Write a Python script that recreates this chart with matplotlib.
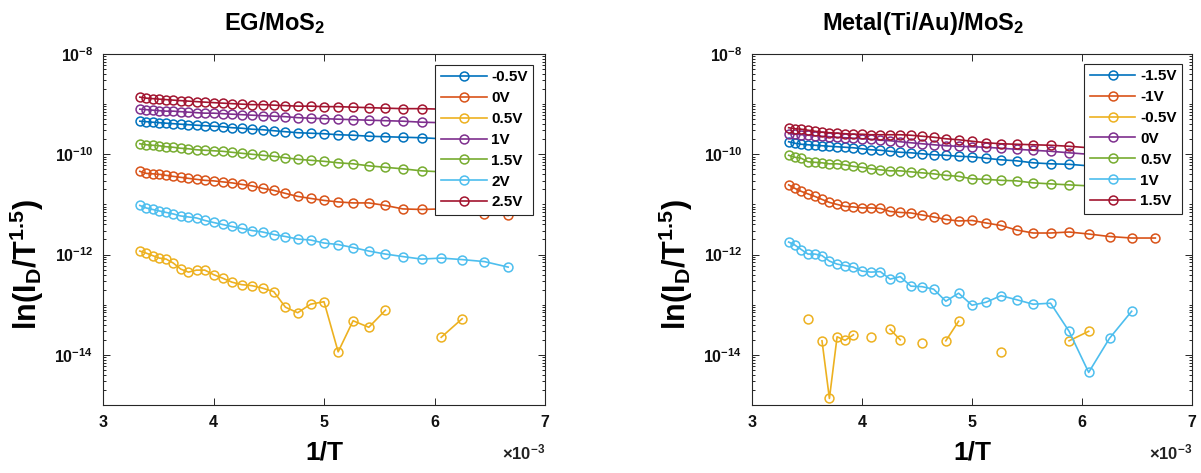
import numpy as np
import matplotlib
matplotlib.use('Agg')
import matplotlib.pyplot as plt
from matplotlib.ticker import FixedLocator, FuncFormatter, LogLocator, NullFormatter

plt.rcParams['font.family'] = ['Liberation Sans', 'DejaVu Sans']
plt.rcParams['font.weight'] = 'bold'
plt.rcParams['mathtext.fontset'] = 'custom'
plt.rcParams['mathtext.rm'] = 'Liberation Sans:bold'
plt.rcParams['mathtext.it'] = 'Liberation Sans:bold'
plt.rcParams['mathtext.bf'] = 'Liberation Sans:bold'
plt.rcParams['mathtext.default'] = 'rm'

# ---------------- data ----------------
temperature_K = [300, 295, 290, 285, 280, 275, 270, 265, 260, 255, 250, 245, 240, 235,
                 230, 225, 220, 215, 210, 205, 200, 195, 190, 185, 180, 175, 170, 165,
                 160, 155, 150]

nan = float('nan')

# log10 of I_D/T^1.5, EG/MoS2 device
eg_labels = ['-0.5V', '0V', '0.5V', '1V', '1.5V', '2V', '2.5V']
eg_m0p5 = [-9.34, -9.35, -9.36, -9.37, -9.38, -9.39, -9.40, -9.41, -9.42, -9.43, -9.44, -9.45,
           -9.47, -9.48, -9.50, -9.51, -9.53, -9.55, -9.57, -9.58, -9.59, -9.61, -9.62, -9.64,
           -9.65, -9.66, -9.67, -9.69, -9.70, -9.72, -9.74]
eg_0 = [-10.34, -10.38, -10.39, -10.40, -10.42, -10.44, -10.46, -10.48, -10.50, -10.52, -10.53,
        -10.55, -10.57, -10.60, -10.63, -10.68, -10.72, -10.78, -10.84, -10.88, -10.92, -10.95,
        -10.97, -10.97, -11.02, -11.09, -11.10, -11.09, -11.12, -11.19, -11.22]
eg_0p5 = [-11.93, -11.97, -12.02, -12.07, -12.09, -12.17, -12.29, -12.35, -12.31, -12.31, -12.40,
          -12.47, -12.55, -12.60, -12.62, -12.67, -12.74, -13.05, -13.16, -12.99, -12.94, -13.94,
          -13.32, -13.45, -13.11, nan, nan, -13.65, -13.28, nan, nan]
eg_1 = [-9.10, -9.11, -9.12, -9.13, -9.14, -9.14, -9.15, -9.16, -9.17, -9.18, -9.18, -9.19,
        -9.20, -9.21, -9.22, -9.23, -9.24, -9.25, -9.27, -9.28, -9.29, -9.30, -9.31, -9.32,
        -9.33, -9.34, -9.36, -9.37, -9.38, -9.39, -9.40]
eg_1p5 = [-9.79, -9.81, -9.82, -9.83, -9.85, -9.86, -9.88, -9.89, -9.91, -9.92, -9.93, -9.94,
          -9.96, -9.98, -10.00, -10.02, -10.04, -10.07, -10.10, -10.12, -10.14, -10.17, -10.19,
          -10.23, -10.26, -10.29, -10.33, -10.35, -10.37, -10.39, -10.41]
eg_2 = [-11.02, -11.07, -11.10, -11.13, -11.16, -11.19, -11.23, -11.25, -11.27, -11.32, -11.36,
        -11.40, -11.44, -11.48, -11.52, -11.55, -11.60, -11.64, -11.69, -11.71, -11.77, -11.80,
        -11.86, -11.93, -11.99, -12.04, -12.09, -12.07, -12.10, -12.14, -12.25]
eg_2p5 = [-8.86, -8.88, -8.89, -8.90, -8.91, -8.92, -8.93, -8.94, -8.95, -8.96, -8.97, -8.98,
          -8.99, -9.00, -9.01, -9.01, -9.02, -9.03, -9.04, -9.04, -9.05, -9.05, -9.06, -9.07,
          -9.08, -9.09, -9.09, -9.10, -9.11, -9.11, -9.12]

# log10 of I_D/T^1.5, Metal(Ti/Au)/MoS2 device
mt_labels = ['-1.5V', '-1V', '-0.5V', '0V', '0.5V', '1V', '1.5V']
mt_m1p5 = [-9.75, -9.78, -9.80, -9.81, -9.82, -9.83, -9.84, -9.85, -9.86, -9.87, -9.89, -9.91,
           -9.92, -9.94, -9.96, -9.97, -9.99, -10.01, -10.02, -10.04, -10.05, -10.08, -10.11,
           -10.13, -10.17, -10.19, -10.20, -10.23, -10.25, -10.27, -10.29]
mt_m1 = [-10.61, -10.68, -10.74, -10.79, -10.84, -10.90, -10.96, -11.00, -11.04, -11.05, -11.07,
         -11.07, -11.08, -11.14, -11.16, -11.17, -11.21, -11.25, -11.30, -11.33, -11.32, -11.37,
         -11.42, -11.51, -11.57, -11.57, -11.55, -11.59, -11.64, -11.67, -11.67]
mt_m0p5 = [nan, nan, nan, -13.29, nan, -13.72, -14.87, -13.64, -13.71, -13.60, nan, -13.65,
           nan, -13.49, -13.70, nan, -13.77, nan, -13.72, -13.33, nan, nan, -13.95, nan, nan,
           nan, -13.72, -13.53, nan, nan, nan]
mt_0 = [-9.59, -9.60, -9.61, -9.62, -9.63, -9.64, -9.65, -9.66, -9.67, -9.68, -9.69, -9.70,
        -9.72, -9.73, -9.75, -9.77, -9.79, -9.81, -9.83, -9.84, -9.85, -9.86, -9.88, -9.90,
        -9.92, -9.94, -9.97, -10.00, -10.02, -10.04, -10.05]
mt_0p5 = [-10.02, -10.06, -10.08, -10.15, -10.16, -10.17, -10.19, -10.19, -10.21, -10.24, -10.26,
          -10.29, -10.31, -10.33, -10.33, -10.35, -10.37, -10.39, -10.42, -10.44, -10.49, -10.50,
          -10.52, -10.53, -10.57, -10.59, -10.61, -10.63, -10.65, -10.67, -10.69]
mt_1 = [-11.75, -11.81, -11.90, -11.99, -11.99, -12.02, -12.13, -12.19, -12.22, -12.25, -12.33,
        -12.35, -12.34, -12.49, -12.44, -12.63, -12.64, -12.69, -12.93, -12.77, -13.01, -12.95,
        -12.82, -12.90, -12.99, -12.97, -13.53, -14.35, -13.67, -13.13, nan]
mt_1p5 = [-9.47, -9.49, -9.50, -9.52, -9.54, -9.56, -9.57, -9.58, -9.59, -9.60, -9.60, -9.61,
          -9.61, -9.61, -9.61, -9.62, -9.64, -9.66, -9.69, -9.71, -9.74, -9.77, -9.79, -9.80,
          -9.81, -9.82, -9.84, -9.87, -9.88, -9.89, -9.90]

titles = ['EG/MoS$_2$', 'Metal(Ti/Au)/MoS$_2$']
colors = ['#0072BD', '#D95319', '#EDB120', '#7E2F8E', '#77AC30', '#4DBEEE', '#A2142F']

# ---------------- figure ----------------
W, H = 1201, 473
fig = plt.figure(figsize=(W / 100, H / 100), dpi=100)

inv_T = 1.0 / np.array(temperature_K, dtype=float)

panels = [
    dict(rect=(103, 54, 442, 351), title=titles[0], labels=eg_labels,
         series=[eg_m0p5, eg_0, eg_0p5, eg_1, eg_1p5, eg_2, eg_2p5],
         leg_anchor=(0.973, 0.969)),
    dict(rect=(752, 54, 440, 351), title=titles[1], labels=mt_labels,
         series=[mt_m1p5, mt_m1, mt_m0p5, mt_0, mt_0p5, mt_1, mt_1p5],
         leg_anchor=(0.977, 0.972)),
]

spine_c = '#262626'
for p in panels:
    x0, y0, w, h = p['rect']
    ax = fig.add_axes([x0 / W, 1 - (y0 + h) / H, w / W, h / H])
    for lab, vals, c in zip(p['labels'], p['series'], colors):
        y = np.power(10.0, np.array(vals, dtype=float))
        ax.plot(inv_T, y, '-o', color=c, mfc='none', mec=c, ms=6.4, mew=1.1, lw=1.2,
                label=lab)
    ax.set_yscale('log')
    ax.set_xlim(3e-3, 7e-3)
    ax.set_ylim(1e-15, 1e-8)
    ax.xaxis.set_major_locator(FixedLocator([3e-3, 4e-3, 5e-3, 6e-3, 7e-3]))
    ax.xaxis.set_major_formatter(FuncFormatter(lambda v, pos: '%d' % round(v * 1e3)))
    ax.yaxis.set_major_locator(FixedLocator([1e-14, 1e-12, 1e-10, 1e-8]))
    ax.yaxis.set_major_formatter(FuncFormatter(
        lambda v, pos: '$10^{%d}$' % round(np.log10(v))))
    ax.yaxis.set_minor_locator(LogLocator(base=10, subs=np.arange(1, 10), numticks=40))
    ax.yaxis.set_minor_formatter(NullFormatter())
    ax.tick_params(which='both', direction='in', top=True, right=True, colors=spine_c,
                   labelcolor='#111111', labelsize=11.5, width=0.7)
    ax.tick_params(which='major', length=5, pad=7)
    ax.tick_params(which='minor', length=2.5)
    for s in ax.spines.values():
        s.set_color(spine_c)
        s.set_linewidth(0.8)

    ax.set_xlabel('1/T', fontsize=19, fontweight='bold')
    ax.xaxis.set_label_coords(0.5, -0.1)
    ax.set_ylabel('ln(I$_D$/T$^{1.5}$)', fontsize=22, fontweight='bold')
    ax.yaxis.set_label_coords(-0.13, 0.40)
    ax.text(1.0, -0.135, '$\\times$10$^{-3}$', transform=ax.transAxes, ha='right',
            va='center', fontsize=12, color='#222222')
    ax.text(0.389, 1.068, p['title'], transform=ax.transAxes, ha='center',
            va='baseline', fontsize=17, fontweight='bold')

    leg = ax.legend(loc='upper right', bbox_to_anchor=p['leg_anchor'], borderaxespad=0,
                    fontsize=11, frameon=True, fancybox=False, framealpha=1,
                    edgecolor=spine_c, handlelength=3.0, handletextpad=0.3,
                    labelspacing=0.45, borderpad=0.35)
    leg.get_frame().set_linewidth(0.8)

fig.savefig('out.png', dpi=100)
